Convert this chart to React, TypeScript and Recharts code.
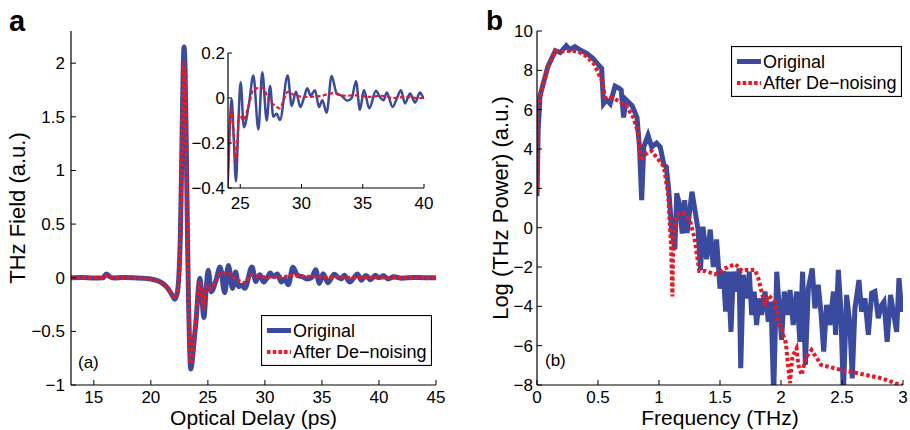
import { LineChart, Line, XAxis, YAxis, Legend } from 'recharts';

// panel a: time domain (ps, a.u.)
const delayOriginal = [
  13, 14, 15, 15.8, 16.1, 16.4, 16.8, 17.5, 18.5, 19.5, 20, 20.5, 21, 21.5, 21.8, 22.1, 22.3, 22.45, 22.6, 22.72,
  22.82, 22.91, 23, 23.1, 23.2, 23.3, 23.4, 23.5, 23.62, 23.8, 24, 24.15, 24.3, 24.47, 24.65, 24.84, 25.03, 25.3,
  25.7, 26.07, 26.48, 26.8, 27.16, 27.43, 27.7, 27.97, 28.24, 28.87, 29.2, 29.55, 29.9, 30.2, 30.47, 30.75, 31.1,
  31.43, 31.7, 32.05, 32.46, 32.87, 33.27, 33.73, 34.1, 34.45, 34.77, 35.1, 35.53, 36.08, 36.4, 36.7, 36.96, 37.44,
  37.8, 38.12, 38.45, 38.86, 39.27, 39.67, 40, 40.4, 40.8, 41.3, 42, 43, 44, 45,
];
const fieldOriginal = [
  0, 0.002, -0.002, 0, 0.035, 0.008, -0.003, 0.002, 0, -0.006, -0.012, -0.025, -0.05, -0.1, -0.15, -0.2, -0.15, 0,
  0.45, 1.2, 1.85, 2.15, 1.95, 1.3, 0.5, -0.2, -0.65, -0.85, -0.78, -0.58, -0.35, -0.12, -0.006, -0.18, -0.37, -0.12,
  0.07, -0.13, -0.03, 0.1, -0.14, 0.115, -0.1, 0.053, -0.083, -0.07, -0.098, 0.1, -0.035, 0.028, -0.04, 0, 0.043,
  0.01, 0.035, -0.04, -0.01, -0.065, 0.098, 0.02, 0.01, -0.012, 0, 0.075, -0.053, 0.036, -0.046, 0.032, 0.004,
  -0.01, 0.024, -0.04, 0, 0.035, -0.024, 0.02, -0.02, 0.024, 0, 0.018, -0.012, 0.008, -0.004, 0.002, 0, 0,
];
const delayDenoised = [
  13, 15.8, 16.1, 16.5, 17.5, 19.5, 20, 20.5, 21, 21.5, 21.8, 22.1, 22.3, 22.45, 22.6, 22.72, 22.82, 22.91, 23,
  23.1, 23.2, 23.3, 23.4, 23.5, 23.62, 23.8, 24, 24.25, 24.45, 24.65, 24.93, 25.25, 25.7, 26.1, 26.8, 27.43, 27.9,
  28.19, 28.9, 29.5, 30.5, 31.5, 32.6, 33.5, 34.5, 35.5, 36.5, 37.5, 38.5, 39.5, 40.5, 45,
];
const fieldDenoised = [
  0, 0, 0.02, 0.005, 0, -0.006, -0.012, -0.025, -0.05, -0.1, -0.15, -0.19, -0.15, 0, 0.42, 1.12, 1.72, 2.0, 1.82,
  1.2, 0.45, -0.2, -0.62, -0.8, -0.74, -0.55, -0.32, -0.05, -0.15, -0.28, -0.07, -0.1, -0.03, 0.04, 0.045, -0.016,
  -0.035, -0.046, 0.028, 0.01, 0.005, 0.008, 0.022, 0.01, 0.012, 0.005, 0.01, 0, 0.005, 0, 0, 0,
];

// panel b: spectrum (THz, log power)
const freqOriginal = [
  0, 0.01, 0.025, 0.05, 0.09, 0.15, 0.19, 0.24, 0.27, 0.31, 0.35, 0.41, 0.46, 0.5, 0.53, 0.545, 0.57, 0.6, 0.64,
  0.67, 0.69, 0.71, 0.73, 0.78, 0.82, 0.84, 0.858, 0.875, 0.91, 0.94, 0.98, 1.01, 1.04, 1.06, 1.08, 1.104, 1.13,
  1.145, 1.166, 1.19, 1.21, 1.23, 1.27, 1.29, 1.32, 1.34, 1.36, 1.39, 1.42, 1.445, 1.472, 1.5, 1.527, 1.546, 1.568,
  1.59, 1.61, 1.637, 1.656, 1.67, 1.69, 1.72, 1.74, 1.76, 1.78, 1.8, 1.82, 1.84, 1.869, 1.896, 1.918, 1.94, 1.965,
  1.986, 2.005, 2.027, 2.055, 2.074, 2.1, 2.128, 2.155, 2.177, 2.2, 2.224, 2.256, 2.278, 2.305, 2.327, 2.35, 2.374,
  2.4, 2.43, 2.448, 2.47, 2.49, 2.511, 2.538, 2.565, 2.584, 2.606, 2.639, 2.66, 2.688, 2.716, 2.743, 2.77, 2.797,
  2.825, 2.844, 2.87, 2.898, 2.92, 2.948, 2.967, 2.989, 3.0,
];
const powerOriginal = [
  1.6, 5.0, 6.7, 7.3, 8.2, 9.0, 8.9, 9.25, 9.05, 9.2, 9.05, 8.85, 8.6, 8.3, 8.1, 6.3, 6.5, 6.3, 7.2, 7.1, 7.0, 5.6,
  6.5, 6.2, 5.6, 4.1, 1.4, 4.1, 4.7, 4.1, 4.3, 4.1, 3.2, 3.1, 1.9, -0.1, -1.1, 1.75, 1.24, -0.3, 1.4, -0.27, 1.83,
  1.07, -0.1, -2.15, 0.05, -1.6, -0.1, -2.0, -0.6, -3.1, -2.2, -4.27, -2.24, -5.3, -2.24, -3.25, -2.07, -7.15, -2.4,
  -3.6, -2.24, -4.44, -3.25, -4.95, -3.6, -4.44, -3.25, -4.78, -3.76, -8.5, -2.24, -4.1, -5.7, -3.25, -4.44, -3.17,
  -4.95, -3.25, -5.8, -2.24, -6.98, -3.08, -2.07, -4.1, -2.9, -4.27, -6.3, -3.93, -4.95, -3.25, -5.45, -2.15, -4.1,
  -8.5, -3.42, -4.95, -7.66, -4.1, -2.66, -4.27, -3.6, -5.45, -3.33, -3.25, -4.6, -3.93, -3.76, -5.8, -3.42, -4.27,
  -5.3, -2.57, -4.27, -3.9,
];
const freqDenoised = [
  0, 0.008, 0.04, 0.08, 0.15, 0.2, 0.27, 0.34, 0.41, 0.47, 0.53, 0.56, 0.62, 0.68, 0.73, 0.79, 0.83, 0.85, 0.88,
  0.94, 0.99, 1.04, 1.075, 1.09, 1.1, 1.11, 1.115, 1.125, 1.145, 1.2, 1.25, 1.29, 1.33, 1.38, 1.459, 1.51, 1.568,
  1.628, 1.68, 1.718, 1.787, 1.814, 1.85, 1.87, 1.9, 1.95, 1.977, 2.018, 2.04, 2.055, 2.074, 2.093, 2.128, 2.142,
  2.17, 2.2, 2.25, 2.33, 2.47, 2.63, 2.825, 2.934, 3.0,
];
const powerDenoised = [
  1.8, 6.2, 7.0, 8.0, 9.0, 8.95, 9.0, 8.95, 8.7, 8.3, 7.5, 6.6, 6.6, 6.4, 6.2, 5.6, 4.8, 3.4, 3.7, 3.9, 3.5, 3.1,
  1.7, 0.05, -1.1, -3.5, -1.3, -0.3, 0.65, 0.75, 0.45, -0.5, -2.2, -2.2, -2.37, -2.2, -1.98, -1.86, -2.2, -2.15,
  -2.15, -2.57, -3.5, -3.84, -3.45, -3.76, -4.69, -5.45, -5.88, -6.8, -7.9, -6.56, -6.13, -6.98, -7.49, -6.64,
  -6.22, -6.98, -7.2, -7.4, -7.66, -7.9, -8.05,
];

const delayTicks = [15, 20, 25, 30, 35, 40, 45];
const fieldTicks = [-1, -0.5, 0, 0.5, 1, 1.5, 2];
const insetDelayTicks = [25, 30, 35, 40];
const insetFieldTicks = [-0.4, -0.2, 0, 0.2];
const freqTicks = [0, 0.5, 1, 1.5, 2, 2.5, 3];
const powerTicks = [-8, -6, -4, -2, 0, 2, 4, 6, 8, 10];
const seriesNames = ['Original', 'After De\u2212noising'];

const BLUE = '#3a4a9e';
const RED = '#ee1620';

const toPoints = (xs: number[], ys: number[]) => xs.map((x, i) => ({ x, y: ys[i] }));
const fmt = (v: number) => (v < 0 ? '\u2212' + Math.abs(v) : String(v));

const origA = toPoints(delayOriginal, fieldOriginal);
const denA = toPoints(delayDenoised, fieldDenoised);
const origB = toPoints(freqOriginal, powerOriginal);
const denB = toPoints(freqDenoised, powerDenoised);

const axisLine = { stroke: '#000', strokeWidth: 1.2 };
const tickLine = { stroke: '#000', strokeWidth: 1 };
const tickStyle = { fill: '#000', fontSize: 17 };

function LegendBox() {
  return (
    <svg width={171} height={51} style={{ display: 'block' }}>
      <rect x={0.5} y={0.5} width={170} height={50} fill="#fff" stroke="#000" strokeWidth={1.2} />
      <line x1={6} x2={30} y1={15.5} y2={15.5} stroke={BLUE} strokeWidth={5} />
      <text x={32} y={22} fontSize={18} fill="#000">{seriesNames[0]}</text>
      <line x1={6} x2={30} y1={37} y2={37} stroke={RED} strokeWidth={4} strokeDasharray="3.5 2.2" />
      <text x={32} y={43} fontSize={18} fill="#000">{seriesNames[1]}</text>
    </svg>
  );
}

export default function App() {
  return (
    <div
      style={{
        position: 'absolute',
        left: 0,
        top: 0,
        width: 910,
        height: 430,
        background: '#fff',
        fontFamily: '"Liberation Sans", Arial, Helvetica, sans-serif',
      }}
    >
      {/* panel a */}
      <div style={{ position: 'absolute', left: 0, top: 0 }}>
        <LineChart width={450} height={430} margin={{ top: 31, right: 14, bottom: 0, left: 0 }}>
          <XAxis
            dataKey="x"
            type="number"
            domain={[13, 45]}
            ticks={delayTicks}
            allowDataOverflow
            height={45}
            axisLine={axisLine}
            tickLine={tickLine}
            tickSize={-5}
            tickMargin={11}
            tick={tickStyle}
            label={{ value: 'Optical Delay (ps)', position: 'insideBottom', offset: 5, fontSize: 21, fill: '#000' }}
          />
          <XAxis xAxisId="top" orientation="top" dataKey="x" type="number" domain={[13, 45]} ticks={delayTicks}
            height={0} tick={false} tickSize={-5} axisLine={axisLine} tickLine={tickLine} />
          <YAxis
            type="number"
            domain={[-1, 2.3]}
            ticks={fieldTicks}
            allowDataOverflow
            width={71}
            axisLine={axisLine}
            tickLine={tickLine}
            tickSize={-5}
            tickMargin={11}
            tick={tickStyle}
            tickFormatter={fmt}
            label={{ value: 'THz Field (a.u.)', angle: -90, position: 'center', dx: -18, fontSize: 22, fill: '#000' }}
          />
          <YAxis yAxisId="right" orientation="right" type="number" domain={[-1, 2.3]} ticks={fieldTicks}
            width={0} tick={false} tickSize={-5} axisLine={axisLine} tickLine={tickLine} />
          <Line data={origA} dataKey="y" name={seriesNames[0]} type="monotone" stroke={BLUE} strokeWidth={5}
            dot={false} activeDot={false} isAnimationActive={false} />
          <Line data={denA} dataKey="y" name={seriesNames[1]} type="monotone" stroke={RED} strokeWidth={3.5}
            strokeDasharray="3.5 2.2" dot={false} activeDot={false} isAnimationActive={false} />
          <Legend layout="vertical" verticalAlign="middle" align="center"
            wrapperStyle={{ left: 261, top: 315, width: 171, height: 51 }} content={<LegendBox />} />
        </LineChart>
      </div>

      {/* inset of panel a */}
      <div style={{ position: 'absolute', left: 180, top: 40 }}>
        <LineChart width={260} height={180} margin={{ top: 13, right: 16, bottom: 0, left: 0 }}>
          <XAxis dataKey="x" type="number" domain={[24, 40]} ticks={insetDelayTicks} allowDataOverflow height={32}
            axisLine={axisLine} tickLine={tickLine} tickSize={-4} tickMargin={13} tick={tickStyle} />
          <XAxis xAxisId="top" orientation="top" dataKey="x" type="number" domain={[24, 40]} ticks={insetDelayTicks}
            height={0} tick={false} tickSize={-4} axisLine={axisLine} tickLine={tickLine} />
          <YAxis type="number" domain={[-0.4, 0.2]} ticks={insetFieldTicks} allowDataOverflow width={48}
            axisLine={axisLine} tickLine={tickLine} tickSize={-4} tickMargin={7} tick={tickStyle} tickFormatter={fmt} />
          <YAxis yAxisId="right" orientation="right" type="number" domain={[-0.4, 0.2]} ticks={insetFieldTicks}
            width={0} tick={false} tickSize={-4} axisLine={axisLine} tickLine={tickLine} />
          <Line data={origA} dataKey="y" type="monotone" stroke={BLUE} strokeWidth={2.5}
            dot={false} activeDot={false} isAnimationActive={false} />
          <Line data={denA} dataKey="y" type="monotone" stroke={RED} strokeWidth={2.2}
            strokeDasharray="4 2.5" dot={false} activeDot={false} isAnimationActive={false} />
        </LineChart>
      </div>

      {/* panel b */}
      <div style={{ position: 'absolute', left: 460, top: 0 }}>
        <LineChart width={450} height={430} margin={{ top: 31, right: 7, bottom: 0, left: 0 }}>
          <XAxis
            dataKey="x"
            type="number"
            domain={[0, 3]}
            ticks={freqTicks}
            allowDataOverflow
            height={45}
            axisLine={axisLine}
            tickLine={tickLine}
            tickSize={-5}
            tickMargin={11}
            tick={tickStyle}
            label={{ value: 'Frequency (THz)', position: 'insideBottom', offset: 5, fontSize: 21, fill: '#000' }}
          />
          <XAxis xAxisId="top" orientation="top" dataKey="x" type="number" domain={[0, 3]} ticks={freqTicks}
            height={0} tick={false} tickSize={-5} axisLine={axisLine} tickLine={tickLine} />
          <YAxis
            type="number"
            domain={[-8, 10]}
            ticks={powerTicks}
            allowDataOverflow
            width={77}
            axisLine={axisLine}
            tickLine={tickLine}
            tickSize={-5}
            tickMargin={9}
            tick={tickStyle}
            tickFormatter={fmt}
            label={{ value: 'Log (THz Power) (a.u.)', angle: -90, position: 'center', dx: 2, fontSize: 22, fill: '#000' }}
          />
          <YAxis yAxisId="right" orientation="right" type="number" domain={[-8, 10]} ticks={powerTicks}
            width={0} tick={false} tickSize={-5} axisLine={axisLine} tickLine={tickLine} />
          <Line data={origB} dataKey="y" name={seriesNames[0]} type="linear" stroke={BLUE} strokeWidth={5}
            dot={false} activeDot={false} isAnimationActive={false} />
          <Line data={denB} dataKey="y" name={seriesNames[1]} type="linear" stroke={RED} strokeWidth={4}
            strokeDasharray="3.5 2.5" dot={false} activeDot={false} isAnimationActive={false} />
          <Legend layout="vertical" verticalAlign="middle" align="center"
            wrapperStyle={{ left: 271, top: 46, width: 171, height: 51 }} content={<LegendBox />} />
        </LineChart>
      </div>

      <svg width={910} height={430} style={{ position: 'absolute', left: 0, top: 0, pointerEvents: 'none' }}>
        <text x={9} y={31} fontSize={29} fontWeight="bold" fill="#000">a</text>
        <text x={486} y={30} fontSize={28} fontWeight="bold" fill="#000">b</text>
        <text x={78} y={368} fontSize={17} fill="#000">(a)</text>
        <text x={545} y={366} fontSize={17} fill="#000">(b)</text>
      </svg>
    </div>
  );
}
